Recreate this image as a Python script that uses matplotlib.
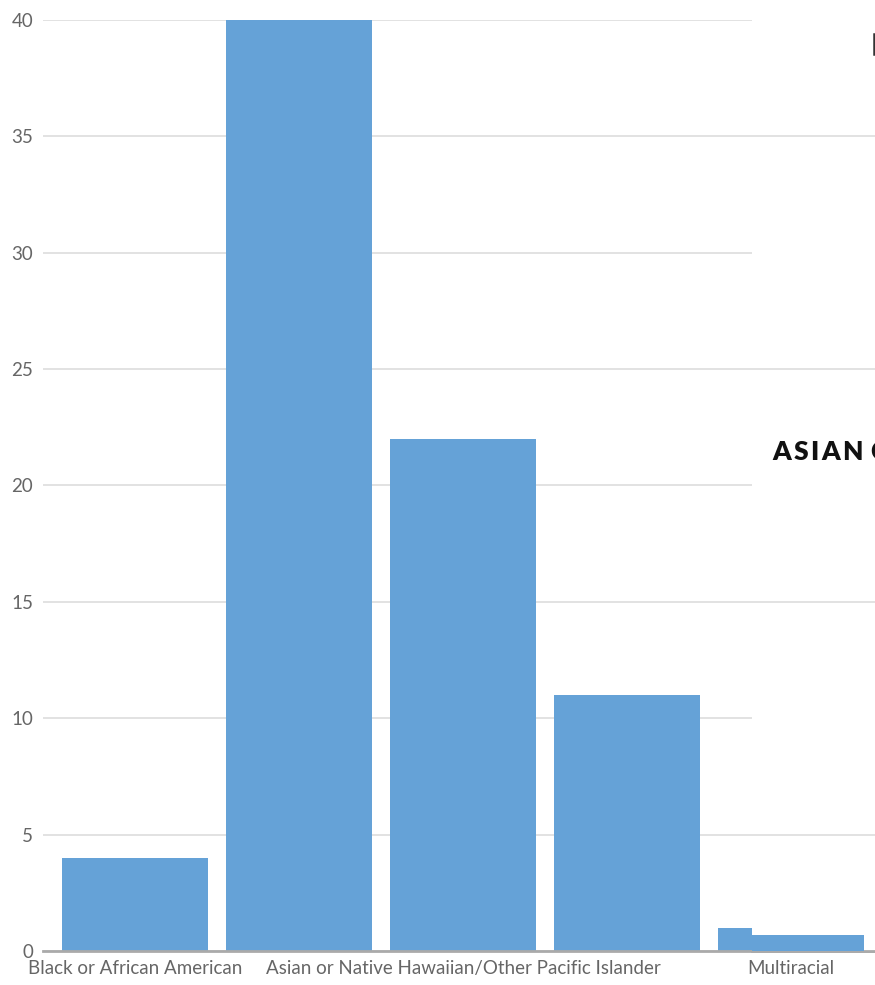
import matplotlib
matplotlib.use("Agg")
from matplotlib import pyplot as plt
from matplotlib.lines import Line2D

# data
categories = ["Black or African American", "Asian",
              "Asian or Native Hawaiian/Other Pacific Islander", "White",
              "Multiracial"]
shown = [True, False, True, False, True]
counts = [4, 40, 22, 11, 1]
yticks = [0, 5, 10, 15, 20, 25, 30, 35, 40]
overlay_ticks = [5, 15, 25, 35]
overlay_value = 0.67
overlay_title = "ASIAN C"

bar_color = "#65a2d7"
grid_color = "#e2e2e2"
text_color = "#666666"

plt.rcParams["font.family"] = ["Lato", "DejaVu Sans"]

W, H = 875, 985
fig = plt.figure(figsize=(W / 100, H / 100), dpi=100)

x0, x1, ytop, ybase = 43, 875, 20, 951
ax = fig.add_axes([x0 / W, (H - ybase) / H, (x1 - x0) / W, (ybase - ytop) / H])

# x scale: bar centre 0 at px 135, one category = 164 px
xmin = (x0 - 135) / 164
xmax = (x1 - 135) / 164
xs = list(range(len(categories)))
ax.bar(xs, counts, width=146 / 164, color=bar_color, zorder=3)
ax.set_xlim(xmin, xmax)
ax.set_ylim(0, 40)
ax.set_yticks(yticks)
ax.set_xticks(xs)
ax.set_xticklabels([c if s else "" for c, s in zip(categories, shown)])
ax.tick_params(axis="both", length=0, colors=text_color, labelsize=13.5)
ax.tick_params(axis="y", pad=7)
ax.tick_params(axis="x", pad=6.5)
ax.grid(axis="y", color=grid_color, lw=1.4, zorder=0)
ax.set_axisbelow(True)
for s in ["left", "right", "top"]:
    ax.spines[s].set_visible(False)
ax.spines["bottom"].set_color("#aaaaaa")
ax.spines["bottom"].set_linewidth(2)
ax.spines["bottom"].set_zorder(5)

# overlapping panel on the right
ox = 752
ov = fig.add_axes([ox / W, (H - ybase) / H, (x1 - ox) / W, (ybase - ytop) / H])
ov.set_facecolor("white")
oxmin = (ox - 135) / 164
ov.set_xlim(oxmin, xmax)
ov.set_ylim(0, 40)
ov.set_yticks(overlay_ticks)
ov.set_xticks([])
ov.tick_params(axis="y", length=0, labelleft=False)
ov.grid(axis="y", color=grid_color, lw=1.4, zorder=0)
ov.set_axisbelow(True)
ov.bar(oxmin, overlay_value, width=4 + 73 / 164 - oxmin, align="edge",
       color=bar_color, zorder=3)
for s in ["left", "right", "top"]:
    ov.spines[s].set_visible(False)
ov.spines["bottom"].set_color("#aaaaaa")
ov.spines["bottom"].set_linewidth(2)

# letter-spaced bold heading, cut off at the right edge
renderer = fig.canvas.get_renderer()
xpos = 772
for ch in overlay_title:
    if ch == " ":
        xpos += 5
        continue
    t = fig.text(xpos / W, 1 - 452 / H, ch, fontsize=19, fontweight="heavy",
                 color="#111111", va="center", ha="left")
    w = t.get_window_extent(renderer).width
    xpos += w + 2.5

fig.add_artist(Line2D([874 / W, 874 / W], [1 - 34 / H, 1 - 54 / H],
                      color="#333333", lw=1.8))

fig.savefig("out.png", dpi=100)
